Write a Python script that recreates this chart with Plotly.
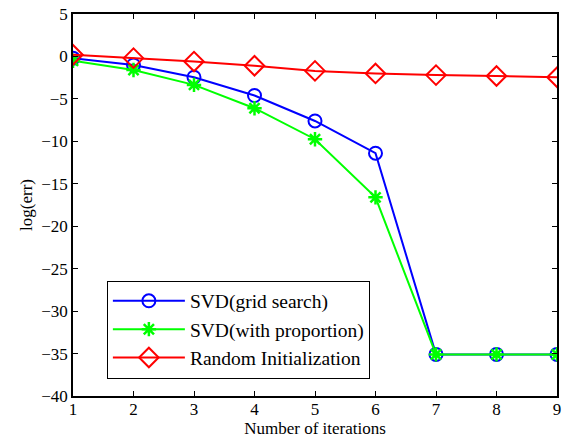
import plotly.graph_objects as go

iterations = [1, 2, 3, 4, 5, 6, 7, 8, 9]
svd_grid = [-0.2, -1.0, -2.45, -4.6, -7.6, -11.4, -35.1, -35.1, -35.1]
svd_prop = [-0.5, -1.6, -3.35, -6.1, -9.75, -16.6, -35.1, -35.1, -35.1]
random_init = [0.2, -0.2, -0.6, -1.1, -1.7, -2.0, -2.2, -2.3, -2.45]
names = ["SVD(grid search)", "SVD(with proportion)", "Random Initialization"]
y_ticks = [-40, -35, -30, -25, -20, -15, -10, -5, 0, 5]
y_labels = ["\u221240", "\u221235", "\u221230", "\u221225", "\u221220", "\u221215", "\u221210", "\u22125", "0", "5"]

FONT = "Liberation Serif"

fig = go.Figure()
fig.add_trace(go.Scatter(x=iterations, y=svd_grid, name=names[0], mode="lines+markers",
                         line=dict(color="#0000ff", width=2),
                         marker=dict(symbol="circle-open", size=13, color="#0000ff", line=dict(width=2))))
fig.add_trace(go.Scatter(x=iterations, y=svd_prop, name=names[1], mode="lines+markers",
                         line=dict(color="#00ff00", width=2),
                         marker=dict(symbol="asterisk-open", size=12, color="#00ff00", line=dict(width=2.5))))
fig.add_trace(go.Scatter(x=iterations, y=random_init, name=names[2], mode="lines+markers",
                         line=dict(color="#ff0000", width=2),
                         marker=dict(symbol="diamond-open", size=15, color="#ff0000", line=dict(width=2))))

axis_common = dict(showgrid=False, zeroline=False, showline=True, linecolor="black", linewidth=1.5,
                   mirror="allticks", ticks="inside", ticklen=5, tickcolor="black",
                   ticklabeloverflow="allow", automargin=False,
                   tickfont=dict(family=FONT, size=17, color="black"))
fig.update_xaxes(range=[1, 9], tickvals=iterations, ticklabelstandoff=-3, **axis_common,
                 title=dict(text="Number of iterations", font=dict(family=FONT, size=17, color="black"), standoff=6))
fig.update_yaxes(range=[-40, 5], tickvals=y_ticks, ticktext=y_labels, **axis_common,
                 title=dict(text="log(err)", font=dict(family=FONT, size=17, color="black"), standoff=4))

fig.update_layout(
    width=562, height=438,
    margin=dict(l=73, r=5, t=14, b=42, autoexpand=False),
    plot_bgcolor="white", paper_bgcolor="white",
    font=dict(family=FONT, size=17, color="black"),
    legend=dict(x=0.07, y=0.302, xanchor="left", yanchor="top",
                bordercolor="black", borderwidth=1, bgcolor="white",
                font=dict(family=FONT, size=19.5, color="black"),
                itemwidth=72, tracegroupgap=0),
    showlegend=True,
)

# remove the default page margin so the figure sits at the window's top-left corner
fig.write_html("out.html",
               config={"displayModeBar": False},
               post_script="document.body.style.margin='0';document.body.style.overflow='hidden';")
